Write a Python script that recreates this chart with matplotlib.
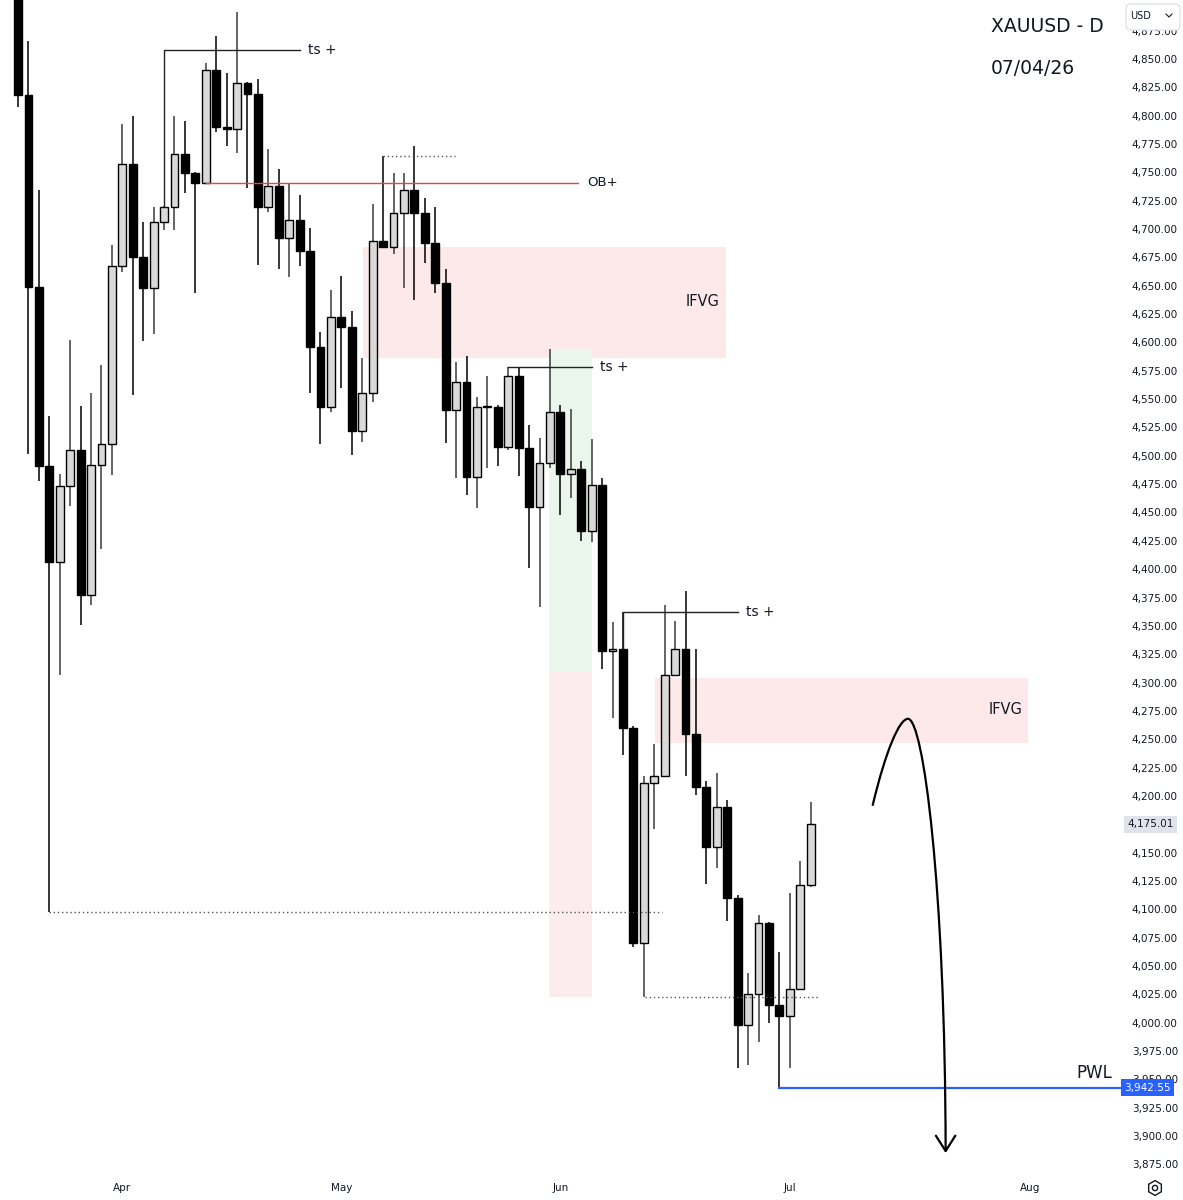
import numpy as np
import matplotlib
matplotlib.use("Agg")
from matplotlib import pyplot as plt
from matplotlib.patches import Rectangle, FancyArrowPatch, FancyBboxPatch, RegularPolygon, Circle
from matplotlib.path import Path
from matplotlib.lines import Line2D
from matplotlib.ticker import FuncFormatter
import matplotlib.transforms as mtransforms

# daily XAUUSD candles, 18 Mar -> 3 Jul (bar index = trading day)
opens = [4935, 4818, 4649, 4491, 4406, 4473, 4505, 4377, 4492, 4510,
         4667, 4757, 4675, 4648, 4706, 4719, 4766, 4749, 4741, 4840,
         4790, 4788, 4829, 4819, 4719, 4738, 4692, 4708, 4681, 4596,
         4543, 4622, 4614, 4522, 4555, 4689, 4684, 4714, 4734, 4714,
         4688, 4652, 4540, 4565, 4481, 4543, 4543, 4508, 4570, 4507,
         4455, 4494, 4539, 4484, 4488, 4434, 4474, 4328, 4330, 4260,
         4070, 4211, 4218, 4307, 4330, 4255, 4208, 4155, 4190, 4110,
         3998, 4025, 4088, 4016, 4006, 4030, 4121]
highs = [4960, 4866, 4734, 4535, 4484, 4602, 4544, 4555, 4580, 4686,
         4793, 4800, 4706, 4719, 4720, 4800, 4795, 4750, 4846, 4870,
         4838, 4891, 4830, 4832, 4771, 4753, 4741, 4730, 4701, 4609,
         4646, 4659, 4628, 4586, 4722, 4764, 4749, 4749, 4773, 4727,
         4719, 4665, 4583, 4588, 4552, 4570, 4545, 4578, 4578, 4527,
         4516, 4594, 4545, 4541, 4495, 4515, 4480, 4353, 4362, 4262,
         4218, 4246, 4368, 4354, 4381, 4330, 4213, 4220, 4196, 4113,
         4044, 4095, 4089, 4062, 4114, 4143, 4195]
lows = [4808, 4502, 4478, 4098, 4307, 4456, 4351, 4368, 4418, 4483,
        4662, 4554, 4601, 4607, 4699, 4699, 4732, 4644, 4740, 4786,
        4773, 4767, 4736, 4668, 4715, 4665, 4658, 4667, 4555, 4510,
        4539, 4560, 4501, 4512, 4547, 4683, 4678, 4648, 4637, 4670,
        4644, 4511, 4480, 4465, 4454, 4489, 4491, 4505, 4482, 4401,
        4367, 4489, 4448, 4463, 4425, 4424, 4312, 4269, 4236, 4067,
        4023, 4171, 4217, 4306, 4218, 4201, 4122, 4136, 4090, 3960,
        3963, 3983, 4000, 3942.55, 3960, 4029, 4120]
closes = [4818, 4649, 4491, 4406, 4473, 4505, 4377, 4492, 4510, 4667,
          4757, 4675, 4648, 4706, 4719, 4766, 4749, 4741, 4840, 4790,
          4788, 4829, 4819, 4719, 4738, 4692, 4708, 4681, 4596, 4543,
          4622, 4614, 4522, 4555, 4689, 4684, 4714, 4734, 4714, 4688,
          4652, 4540, 4565, 4481, 4543, 4543, 4508, 4570, 4507, 4455,
          4494, 4539, 4484, 4488, 4434, 4474, 4328, 4330, 4260, 4070,
          4211, 4218, 4307, 4330, 4255, 4208, 4155, 4190, 4110, 3998,
          4025, 4088, 4016, 4006, 4030, 4121, 4175.01]

month_pos = [10, 31, 52, 74, 97]
month_labels = ["Apr", "May", "Jun", "Jul", "Aug"]

last_price = closes[-1]
pwl = lows[73]

o = np.array(opens, dtype=float)
h = np.array(highs, dtype=float)
l = np.array(lows, dtype=float)
c = np.array(closes, dtype=float)
idx = np.arange(len(o))
up = c >= o

fig = plt.figure(figsize=(11.83, 12), dpi=100)
ax = fig.add_axes([0, 28 / 1200, 1122 / 1183, 1172 / 1200])
ax.set_xlim(-1.73, 105.85)
ax.set_ylim(3868.3, 4902.0)

# zones
ax.add_patch(Rectangle((33.08, 4586.3), 67.88 - 33.08, 4684.2 - 4586.3,
                       fc="#fde9ea", ec="none", zorder=0))
ax.add_patch(Rectangle((61.07, 4246.7), 96.84 - 61.07, 4304.0 - 4246.7,
                       fc="#fde9ea", ec="none", zorder=0))
ax.add_patch(Rectangle((50.9, 4309.3), 4.1, 4594.2 - 4309.3,
                       fc="#ebf6ed", ec="none", zorder=0))
ax.add_patch(Rectangle((50.9, 4022.6), 4.1, 4309.3 - 4022.6,
                       fc="#fdeced", ec="none", zorder=0))

# candles
ax.vlines(idx, l, h, colors=np.where(up, "#3a3a3a", "#000000"), lw=1.1, zorder=2)
ax.bar(idx, np.maximum(np.abs(c - o), 1.0), bottom=np.minimum(o, c), width=0.76,
       color=np.where(up, "#d9d9d9", "#000000"), edgecolor="#000000", lw=1.0, zorder=3)

# markup
line_kw = dict(color="#222222", lw=1.0, zorder=4)
ax.plot([14, 14, 27.0], [highs[14], 4858, 4858], **line_kw)
ax.text(27.8, 4858, "ts +", fontsize=10, va="center", color="#131722")

ax.plot([18, 53.7], [opens[18], opens[18]], color="#e0474c", lw=1.0, zorder=4)
ax.text(54.55, opens[18], "OB+", fontsize=9.5, va="center", color="#131722")

ax.plot([35, 41.9], [highs[35], highs[35]], color="#555555", lw=1.0, ls=(0, (1, 2)), zorder=4)

ax.plot([47, 55.0], [highs[47], highs[47]], **line_kw)
ax.text(55.8, highs[47], "ts +", fontsize=10, va="center", color="#131722")

ax.plot([58, 58, 69.0], [opens[58], highs[58], highs[58]], **line_kw)
ax.text(69.8, highs[58], "ts +", fontsize=10, va="center", color="#131722")

ax.plot([2.97, 61.7], [lows[3], lows[3]], color="#555555", lw=1.0, ls=(0, (1, 2)), zorder=4)
ax.plot([60.1, 76.7], [lows[60], lows[60]], color="#555555", lw=1.0, ls=(0, (1, 2)), zorder=4)

ax.text(64.05, 4636.5, "IFVG", fontsize=10.5, va="center", color="#131722")
ax.text(93.1, 4275.8, "IFVG", fontsize=10.5, va="center", color="#131722")

ax.plot([73, 105.85], [pwl, pwl], color="#2962ff", lw=1.6, zorder=4)
ax.text(101.5, 3955.6, "PWL", fontsize=12, va="center", color="#131722")

# projected path
verts = [(81.95, 4192), (83.2, 4240), (84.5, 4268), (85.33, 4268),
         (86.8, 4268), (88.9, 4120), (88.94, 3885)]
codes = [Path.MOVETO, Path.CURVE4, Path.CURVE4, Path.CURVE4,
         Path.CURVE4, Path.CURVE4, Path.CURVE4]
arrow = FancyArrowPatch(path=Path(verts, codes), arrowstyle="->,head_length=0.55,head_width=0.35",
                        mutation_scale=20, lw=1.6, color="#000000", zorder=5)
ax.add_patch(arrow)

# axes styling
for s in ax.spines.values():
    s.set_visible(False)
ax.yaxis.tick_right()
yticks = [v for v in range(3875, 4876, 25) if v != 4175]  # 4,175 sits under the last-price tag
ax.set_yticks(yticks)
ax.yaxis.set_major_formatter(FuncFormatter(lambda v, _: f"{v:,.2f}"))
ax.tick_params(axis="y", length=0, pad=7, labelsize=7.5, labelcolor="#131722")
ax.set_xticks(month_pos)
ax.set_xticklabels(month_labels)
ax.tick_params(axis="x", length=0, pad=8, labelsize=7.5, labelcolor="#131722")

tr = mtransforms.blended_transform_factory(ax.transAxes, ax.transData)
ax.text(1.005, last_price, f"{last_price:,.2f}", transform=tr, fontsize=7.5, va="center",
        color="#131722", zorder=6, bbox=dict(fc="#e0e3eb", ec="none", pad=2.5))
ax.text(1.002, pwl, f"{pwl:,.2f}", transform=tr, fontsize=7.5, va="center",
        color="white", zorder=6, bbox=dict(fc="#2962ff", ec="none", pad=2.5))

fig.text(991 / 1183, 1 - 27 / 1200, "XAUUSD - D", fontsize=13.5, va="center", color="#131722")
fig.text(991 / 1183, 1 - 68 / 1200, "07/04/26", fontsize=13.5, va="center", color="#131722")

# currency box and settings icon
fig.add_artist(FancyBboxPatch((1126 / 1183, 1 - 30 / 1200), 54 / 1183, 26 / 1200,
                              boxstyle="round,pad=0,rounding_size=0.004",
                              transform=fig.transFigure, fc="white", ec="#e0e3eb", zorder=5))
fig.text(1130 / 1183, 1 - 16 / 1200, "USD", fontsize=7, va="center", color="#131722", zorder=6)
fig.add_artist(Line2D([1166 / 1183, 1169 / 1183, 1172 / 1183],
                      [1 - 14 / 1200, 1 - 17 / 1200, 1 - 14 / 1200],
                      transform=fig.transFigure, color="#131722", lw=0.8, zorder=6))
fig.add_artist(RegularPolygon((1155 / 1183, 1 - 1188 / 1200), 6, radius=0.0062,
                              transform=fig.transFigure, fill=False, ec="#131722", lw=1.0))
fig.add_artist(Circle((1155 / 1183, 1 - 1188 / 1200), 0.0022,
                      transform=fig.transFigure, fill=False, ec="#131722", lw=1.0))

fig.savefig("out.png", dpi=100)
